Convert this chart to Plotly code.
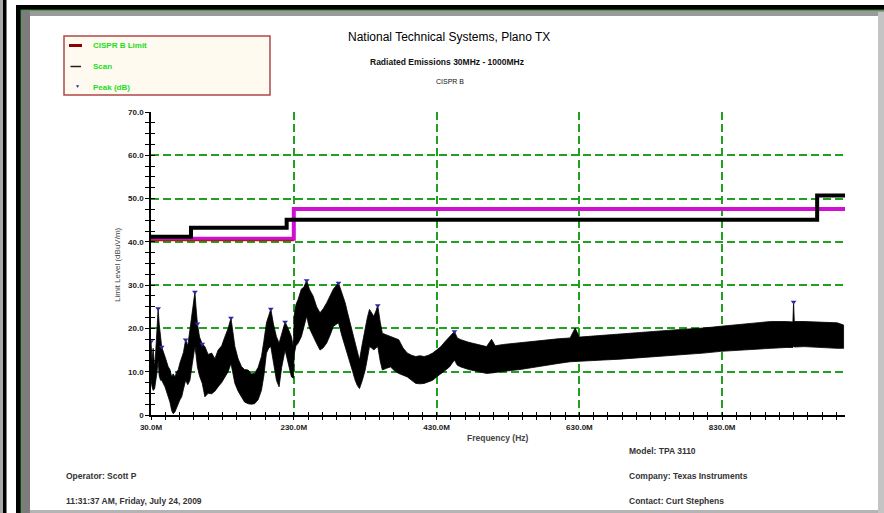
import plotly.graph_objects as go

# ---------------- data ----------------
x_major = [30, 230, 430, 630, 830]
x_labels = ["30.0M", "230.0M", "430.0M", "630.0M", "830.0M"]
x_minor = list(range(30, 1001, 20))
y_major = [0, 10, 20, 30, 40, 50, 60, 70]
y_labels = ["0", "10.0", "20.0", "30.0", "40.0", "50.0", "60.0", "70.0"]
y_minor = [i * 2.5 for i in range(0, 29)]

# limit lines (stepped)
cispr_freq = [30, 230]
cispr_level = [40.3, 40.3]
magenta_freq = [30, 230, 1002]
magenta_level = [40.7, 47.6, 47.6]
black_freq = [30, 86, 220, 963, 1002]
black_level = [41.2, 43.25, 45.1, 50.7, 50.7]

# scan envelope (upper / lower edge of the noisy trace)
scan_freq = [30, 31.5, 33, 35, 36.5, 38.5, 40, 41.5, 43.5, 45, 49.6, 52, 54, 56.5, 59, 61, 63.5, 66,
             68, 70.5, 73, 75.5, 78.5, 81.5, 84.5, 88, 91.5, 93, 95, 98, 101.8, 105.5, 110, 115,
             119.5, 124, 129, 133.5, 138, 142, 145, 147.5, 152, 156.7, 161, 166, 170.5, 175, 180,
             184.7, 188, 191.7, 195, 197.8, 201.5, 205.7, 209.4, 213, 217.8, 222, 226.7, 229.5,
             230.5, 233, 236, 240.6, 244, 248, 252, 257, 262, 266.7, 271, 276, 281, 285.5, 292.6,
             297, 302, 305.5, 309, 312.5, 316, 319, 322, 326, 330, 333, 336, 339, 342, 345, 347.6,
             351, 354, 360, 365.5, 371, 377, 383, 389, 395, 400.8, 406.5, 412.6, 418.5, 424.4, 430,
             436, 442, 448, 455, 459, 464, 475, 488, 500, 507, 512, 523.7, 535, 547, 558, 570.5,
             584, 600, 617, 624, 630, 647, 663.6, 687, 711, 734, 757.6, 781, 804, 828, 851, 875,
             898, 920, 929, 930, 931, 944.6, 968, 991, 1000]
scan_hi = [17.0, 12.5, 15.4, 11.0, 14.3, 20.0, 24.6, 21.0, 18.1, 15.7, 13.5, 12.0, 11.2, 10.5, 8.8,
           9.5, 8.8, 10.0, 10.4, 12.0, 13.5, 14.5, 17.4, 16.0, 19.7, 24.0, 28.4, 25.0, 21.1, 18.0,
           16.4, 15.8, 14.0, 14.3, 13.0, 15.0, 16.0, 18.1, 20.0, 22.4, 19.0, 15.8, 13.0, 11.2, 10.5,
           10.4, 9.5, 9.6, 11.0, 13.5, 17.0, 21.3, 23.0, 24.5, 21.0, 18.1, 16.6, 19.0, 21.5, 20.0,
           18.1, 15.5, 23.0, 25.5, 26.7, 29.1, 29.5, 31.1, 29.0, 27.5, 25.0, 23.6, 24.5, 25.9, 27.5,
           29.1, 30.5, 28.5, 25.9, 23.5, 21.3, 19.0, 16.6, 14.5, 12.7, 16.5, 20.5, 22.5, 24.4, 23.5,
           22.8, 24.0, 25.3, 21.5, 18.9, 18.5, 18.1, 17.8, 17.4, 15.5, 14.3, 13.8, 13.5, 13.7, 13.5,
           13.8, 14.3, 15.0, 15.8, 17.0, 18.1, 19.3, 17.8, 17.4, 16.8, 16.2, 15.8, 17.5, 16.0, 16.3,
           16.5, 16.7, 16.9, 17.2, 17.4, 17.6, 17.8, 20.1, 18.0, 18.2, 18.3, 18.6, 18.9, 19.3, 19.6,
           19.8, 20.1, 20.5, 20.9, 21.2, 21.6, 21.6, 21.5, 26.1, 21.6, 21.6, 21.5, 21.3, 20.8]
scan_lo = [8.0, 6.5, 5.7, 6.0, 7.3, 10.0, 12.7, 9.0, 8.0, 8.0, 6.5, 5.0, 4.2, 3.0, 1.0, 0.3, 0.7,
           2.0, 2.6, 3.5, 4.2, 6.0, 8.0, 7.0, 8.0, 12.0, 15.8, 14.0, 11.1, 9.0, 7.3, 4.2, 5.0, 4.9,
           5.5, 6.5, 7.5, 8.8, 10.0, 11.9, 9.5, 7.3, 5.5, 4.2, 3.0, 2.6, 2.5, 2.6, 3.5, 5.7, 9.0,
           14.3, 15.5, 15.8, 12.0, 8.0, 6.5, 11.0, 15.0, 12.5, 8.8, 8.5, 14.0, 16.0, 16.6, 18.1,
           20.0, 22.8, 20.0, 18.1, 16.5, 15.0, 15.5, 16.6, 18.5, 20.5, 21.3, 18.5, 15.8, 13.5, 11.9,
           10.0, 8.0, 6.8, 6.1, 8.0, 10.4, 13.0, 15.8, 15.5, 15.0, 15.5, 15.8, 12.5, 10.4, 10.8,
           11.1, 10.2, 9.6, 9.2, 8.8, 8.0, 7.3, 7.2, 7.3, 7.6, 8.0, 8.8, 9.6, 10.3, 11.1, 12.7,
           11.5, 11.1, 10.5, 10.0, 9.6, 9.7, 9.8, 10.0, 10.3, 10.5, 10.7, 11.0, 11.5, 11.9, 12.3,
           12.5, 12.4, 12.6, 12.7, 12.9, 13.1, 13.5, 13.8, 14.0, 14.3, 14.7, 15.0, 15.2, 15.4, 15.6,
           15.6, 16.0, 15.7, 15.8, 15.6, 15.4, 15.4]

peak_freq = [30, 40, 45, 78.5, 91.5, 95, 101.8, 142, 197.8, 217.8, 248, 292.6, 347.6, 455, 930]
peak_level = [17.0, 24.6, 15.7, 17.4, 28.4, 21.1, 16.4, 22.4, 24.5, 21.5, 31.1, 30.5, 25.3, 19.3, 26.1]

# ---------------- layout geometry ----------------
W, H = 884, 513
ML, MR, MT, MB = 151, 39, 112, 98
PW, PH = W - ML - MR, H - MT - MB


def px(x):
    return (x - ML) / PW


def py(y):
    return 1 - (y - MT) / PH


FONT = "Liberation Sans, Arial, sans-serif"
GRID = "#22a022"

fig = go.Figure()

# limit lines
fig.add_trace(go.Scatter(x=magenta_freq, y=magenta_level, mode="lines", line_shape="hv",
                         line=dict(color="#d010d0", width=4), showlegend=False, hoverinfo="skip"))
fig.add_trace(go.Scatter(x=cispr_freq, y=cispr_level, mode="lines", name="CISPR B Limit",
                         line=dict(color="#b01818", width=1.6), showlegend=False))
fig.add_trace(go.Scatter(x=black_freq, y=black_level, mode="lines", line_shape="hv",
                         line=dict(color="black", width=4), showlegend=False, hoverinfo="skip"))

# scan (noisy band drawn between its envelope edges)
fig.add_trace(go.Scatter(x=scan_freq + scan_freq[::-1], y=scan_hi + scan_lo[::-1], mode="lines",
                         fill="toself", fillcolor="black", name="Scan",
                         line=dict(color="black", width=0.8), showlegend=False))

# peaks
fig.add_trace(go.Scatter(x=peak_freq, y=peak_level, mode="markers", name="Peak (dB)",
                         marker=dict(symbol="triangle-down", size=5, color="#2a2aa0"),
                         showlegend=False))

# overlay axes for crossing ticks
fig.add_trace(go.Scatter(x=[], y=[], xaxis="x2", yaxis="y2", showlegend=False, hoverinfo="skip"))

tickfont = dict(family=FONT, size=8, color="#222222", weight="bold")

fig.update_layout(
    width=W, height=H,
    margin=dict(l=ML, r=MR, t=MT, b=MB),
    paper_bgcolor="white", plot_bgcolor="rgba(0,0,0,0)",
    showlegend=False,
    xaxis=dict(range=[30, 1002], tickmode="array", tickvals=x_major, ticktext=x_labels,
               ticks="outside", ticklen=3, tickwidth=1.2, tickcolor="black",
               showline=True, linecolor="black", linewidth=1.5, mirror=False,
               showgrid=True, gridcolor=GRID, gridwidth=2, griddash="8px,4px",
               zeroline=False, tickfont=tickfont, ticklabelstandoff=1,
               minor=dict(tickmode="array", tickvals=x_minor, ticks="outside", ticklen=3,
                          tickwidth=1.2, tickcolor="black", showgrid=False)),
    yaxis=dict(range=[0, 70], tickmode="array", tickvals=y_major, ticktext=y_labels,
               ticks="outside", ticklen=4, tickwidth=1.2, tickcolor="black",
               showline=True, linecolor="black", linewidth=1.5,
               showgrid=True, gridcolor=GRID, gridwidth=2, griddash="8px,4px",
               zeroline=False, tickfont=tickfont,
               minor=dict(tickmode="array", tickvals=y_minor, ticks="outside", ticklen=4,
                          tickwidth=1.2, tickcolor="black", showgrid=False)),
    xaxis2=dict(overlaying="x", anchor="y2", range=[30, 1002], tickmode="array",
                tickvals=x_minor, ticks="inside", ticklen=3, tickwidth=1.2, tickcolor="black",
                showticklabels=False, showgrid=False, showline=False, zeroline=False),
    yaxis2=dict(overlaying="y", anchor="x2", side="left", range=[0, 70], tickmode="array",
                tickvals=y_minor, ticks="inside", ticklen=4, tickwidth=1.2, tickcolor="black",
                showticklabels=False, showgrid=False, showline=False, zeroline=False),
)

# ---------------- frame ----------------
shapes = []


def rect(x0, y0, x1, y1, fill, line=None, lw=0):
    shapes.append(dict(type="rect", xref="paper", yref="paper", layer="below",
                       x0=px(x0), x1=px(x1), y0=py(y1), y1=py(y0),
                       fillcolor=fill, line=dict(color=line or fill, width=lw)))


rect(0, 0, 3, H, "#a8a8a8")
rect(3, 0, 6.5, H, "#000000")
rect(16, 5, W, H, "#000000")
rect(20.5, 9.5, W, H, "#1e8c1e")
rect(21.5, 10.5, W, H, "#9a9a9a")
rect(21.5, 10.5, 30, H, "#7c7c7c")
rect(878, 12, W, H, "#c4c4c4")
rect(30, 16, 878, 510, "#ffffff")
rect(30, 510, 878, H, "#b4b4b4")

# legend box
rect(64, 36, 270, 95, "#fffaf0", line="#b04848", lw=1.5)
shapes.append(dict(type="line", xref="paper", yref="paper", x0=px(69), x1=px(82),
                   y0=py(45.5), y1=py(45.5), line=dict(color="#8b0000", width=3)))
shapes.append(dict(type="line", xref="paper", yref="paper", x0=px(70.5), x1=px(81),
                   y0=py(66.5), y1=py(66.5), line=dict(color="#222222", width=1.5)))
fig.update_layout(shapes=shapes)

annotations = []


def text(t, x, y, size, anchor="left", color="#222222", bold=False, angle=0):
    annotations.append(dict(text=("<b>%s</b>" % t) if bold else t, xref="paper", yref="paper",
                            x=px(x), y=py(y), xanchor=anchor, yanchor="middle",
                            showarrow=False, textangle=angle,
                            font=dict(family=FONT, size=size, color=color)))


LG = "#22dd22"
text("CISPR B Limit", 90.5, 45.5, 8, color=LG, bold=True)
text("Scan", 90.5, 66.5, 8, color=LG, bold=True)
text("Peak (dB)", 90.5, 87.5, 8, color=LG, bold=True)
text("\u25BC", 77.3, 86.5, 5, anchor="center", color="#2a2aa0")

text("National Technical Systems, Plano TX", 449, 37, 12, anchor="center", color="#000000")
text("Radiated Emissions 30MHz - 1000MHz", 447, 62, 8.5, anchor="center", color="#111111", bold=True)
text("CISPR B", 450, 82, 7, anchor="center", color="#111111")
text("Limit Level (dBuV/m)", 117, 265, 8, anchor="center", color="#444444", angle=-90)
text("Frequency (Hz)", 498, 437.5, 8.5, anchor="center", color="#444444", bold=True)

text("Model: TPA 3110", 627, 451, 8.5, color="#333333", bold=True)
text("Operator: Scott P", 64, 476, 8.5, color="#333333", bold=True)
text("Company: Texas Instruments", 627, 476, 8.5, color="#333333", bold=True)
text("11:31:37 AM, Friday, July 24, 2009", 64, 501, 8.5, color="#333333", bold=True)
text("Contact: Curt Stephens", 627, 501, 8.5, color="#333333", bold=True)

fig.update_layout(annotations=annotations)

fig.write_html("out.html", config={"displayModeBar": False},
               post_script="document.body.style.margin='0';")
